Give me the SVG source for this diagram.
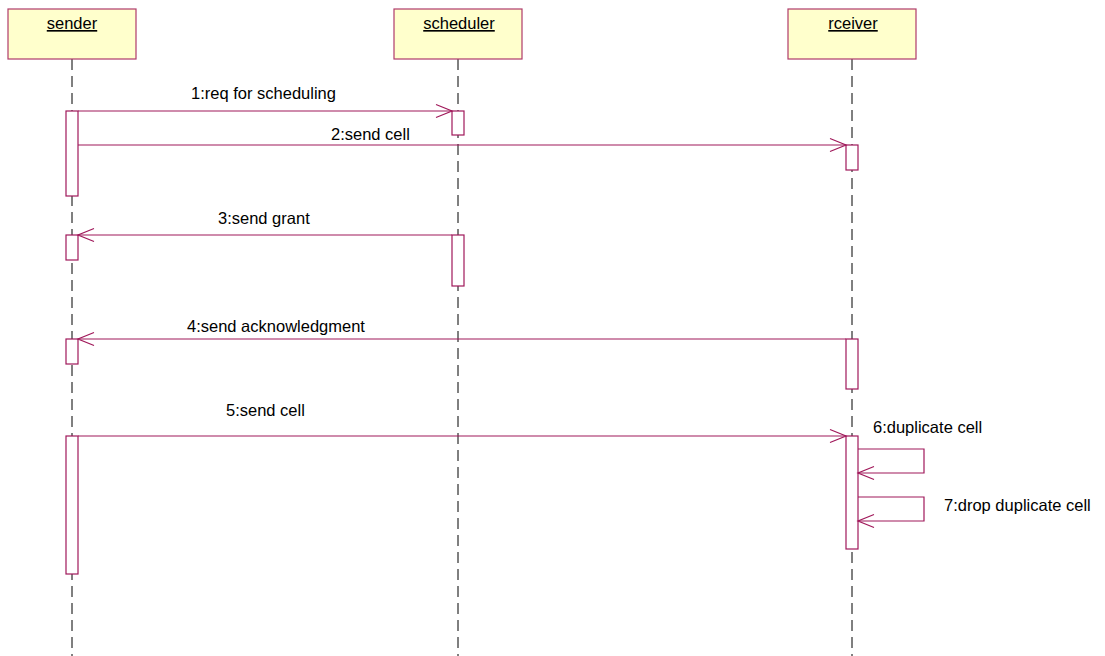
<svg xmlns="http://www.w3.org/2000/svg" width="1105" height="656" viewBox="0 0 1105 656">
  <style>
    .obj { fill: #ffffcc; stroke: #b03a6a; stroke-width: 1.2; }
    .name { font-family: "Liberation Sans", Arial, sans-serif; font-size: 16.5px; font-weight: normal; fill: #000; text-anchor: middle; text-decoration: underline; }
    .life { stroke: #000; stroke-width: 1; stroke-dasharray: 11 6; fill: none; }
    .act { fill: #fff; stroke: #a0185a; stroke-width: 1.2; }
    .msg { stroke: #a0185a; stroke-width: 1.2; fill: none; }
    .lbl { font-family: "Liberation Sans", Arial, sans-serif; font-size: 16.5px; fill: #000; }
  </style>
  <defs>
    <marker id="open" markerUnits="userSpaceOnUse" markerWidth="20" markerHeight="16" viewBox="-18 -8 20 16" refX="0" refY="0" orient="auto">
      <path d="M-16,-6.5 L0,0 L-16,6.5" fill="none" stroke="#a0185a" stroke-width="1.2"/>
    </marker>
  </defs>
  <rect width="1105" height="656" fill="#fff"/>

  <!-- lifelines -->
  <g id="lifelines">
    <line class="life" x1="72" y1="59" x2="72" y2="656"/>
    <line class="life" x1="458" y1="59" x2="458" y2="656"/>
    <line class="life" x1="852" y1="59" x2="852" y2="656"/>
  </g>

  <!-- objects -->
  <g id="sender">
    <rect class="obj" x="8" y="9" width="128" height="50"/>
    <text class="name" x="72" y="29">sender</text>
    <rect class="act" x="66" y="111" width="12" height="85"/>
    <rect class="act" x="66" y="235" width="12" height="25"/>
    <rect class="act" x="66" y="339" width="12" height="25"/>
    <rect class="act" x="66" y="436" width="12" height="138"/>
  </g>
  <g id="scheduler">
    <rect class="obj" x="394" y="9" width="128" height="50"/>
    <text class="name" x="459" y="29">scheduler</text>
    <rect class="act" x="452" y="111" width="12" height="24"/>
    <rect class="act" x="452" y="235" width="12" height="51"/>
  </g>
  <g id="rceiver">
    <rect class="obj" x="788" y="9" width="128" height="50"/>
    <text class="name" x="853" y="29">rceiver</text>
    <rect class="act" x="846" y="145" width="12" height="25"/>
    <rect class="act" x="846" y="339" width="12" height="50"/>
    <rect class="act" x="846" y="436" width="12" height="113"/>
  </g>

  <!-- messages -->
  <g id="connectors">
    <line class="msg" x1="78" y1="111" x2="452" y2="111" marker-end="url(#open)"/>
    <line class="msg" x1="78" y1="145" x2="846" y2="145" marker-end="url(#open)"/>
    <line class="msg" x1="452" y1="235" x2="78" y2="235" marker-end="url(#open)"/>
    <line class="msg" x1="846" y1="339" x2="78" y2="339" marker-end="url(#open)"/>
    <line class="msg" x1="78" y1="436" x2="846" y2="436" marker-end="url(#open)"/>
    <polyline class="msg" points="858,449 924,449 924,473 858,473" marker-end="url(#open)"/>
    <polyline class="msg" points="858,497 924,497 924,521 858,521" marker-end="url(#open)"/>
  </g>

  <g id="labels">
    <text class="lbl" x="191" y="99">1:req for scheduling</text>
    <text class="lbl" x="331" y="140">2:send cell</text>
    <text class="lbl" x="218" y="224">3:send grant</text>
    <text class="lbl" x="187" y="332">4:send acknowledgment</text>
    <text class="lbl" x="226" y="416">5:send cell</text>
    <text class="lbl" x="873" y="433">6:duplicate cell</text>
    <text class="lbl" x="944" y="511">7:drop duplicate cell</text>
  </g>
</svg>
